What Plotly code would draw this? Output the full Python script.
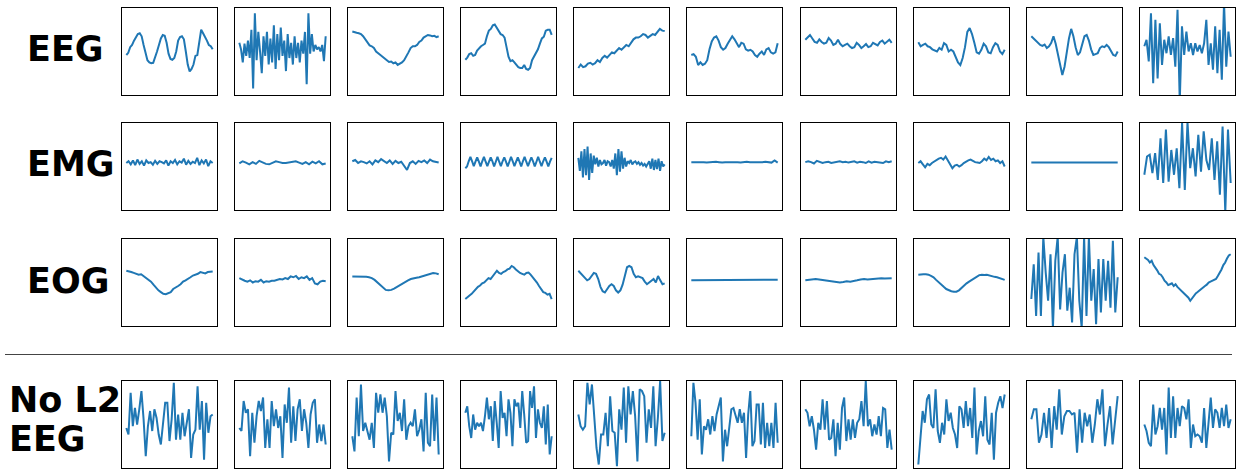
import plotly.graph_objects as go

# ---------------- data ----------------
row_labels = ["EEG", "EMG", "EOG", "No L2", "EEG"]

EEG = [
    [-8, -3, 10, 15, 25, 33, 40, 42, 35, 15, -5, -20, -25, -27, -26, -15, 0, 15, 30, 38, 36, 20, -5, -17, -19, -15, 0, 25, 33, 35, 28, 0, -30, -46, -40, -30, -10, -8, 20, 50, 42, 35, 25, 15, 12, 5],
    [20, 5, -25, 18, -10, 25, -15, 50, -85, 88, -20, 45, 0, -50, 35, -10, 45, -30, 30, -25, 60, -40, 40, -20, 55, -10, 25, -45, 40, -15, 20, -30, 35, -15, 20, -25, 25, -5, 45, -75, 88, -5, 40, 0, 15, 5, 10, 0, 15, -22, 35],
    [46, 44, 43, 42, 40, 35, 28, 20, 14, 12, 8, 0, -5, -8, -12, -17, -20, -24, -23, -27, -25, -31, -28, -25, -20, -12, -2, 8, 12, 12, 15, 22, 25, 32, 36, 38, 37, 35, 36, 33, 35],
    [-19, -14, -6, -4, -10, -8, 2, 8, 12, 15, 18, 35, 48, 52, 60, 62, 55, 45, 40, 38, 32, 10, -12, -22, -20, -25, -32, -36, -38, -38, -31, -40, -42, -38, -20, -12, -6, 5, 18, 30, 34, 48, 50, 50, 38],
    [-38, -30, -36, -34, -28, -26, -30, -27, -20, -24, -15, -10, -14, -8, -2, -4, 2, 8, 4, 10, 15, 12, 20, 28, 32, 32, 35, 40, 38, 32, 36, 40, 38, 44, 52, 48, 47],
    [-8, -6, -12, -31, -25, -31, -28, -20, 5, 23, 32, 35, 25, 10, 4, 8, 18, 28, 35, 28, 18, 10, 20, 18, 5, 2, 4, 0, -8, -12, -5, 0, -8, 5, 8, -2, -5, -2, 19],
    [27, 32, 38, 30, 22, 20, 28, 22, 18, 20, 31, 25, 15, 18, 27, 17, 12, 15, 18, 12, 8, 10, 20, 15, 8, 12, 17, 10, 12, 20, 17, 14, 22, 25, 18, 22, 27, 20],
    [21, 12, 15, 18, 12, 10, 5, 2, 0, 8, 4, 19, 15, 0, 4, 0, -12, -25, -31, -15, 10, 45, 54, 40, 20, -2, -5, 4, 18, 12, -2, -4, 10, 19, 15, 0, -6, 4],
    [35, 30, 25, 18, 15, 13, 16, 8, 12, 20, 35, 18, -5, -30, -54, -35, 0, 30, 52, 35, 10, -8, -2, 18, 35, 38, 25, 5, -8, -6, -4, 8, 12, 10, 15, 10, 0, -8, -10, 0],
    [12, 27, -23, 88, -73, 73, -62, 65, -31, 27, -4, 35, -8, 31, -35, 96, -115, 58, -8, 46, 0, 19, -8, 19, 0, 15, -4, 19, 73, -31, 19, -42, 58, -50, 50, -65, 112, -35, 46, -12],
]

EMG = [
    [8, 12, 5, 14, 3, 16, 6, 12, 2, 14, 8, 10, 4, 13, 6, 12, 10, 7, 14, 2, 12, 8, 15, 5, 12, 9, 18, 4, 13, 6, 11, 8, 20, 3, 14, 7, 16, 1, 12, 8],
    [7, 12, 9, 5, 10, 6, 13, 9, 6, 5, 9, 12, 10, 8, 8, 9, 10, 12, 9, 6, 10, 5, 11, 7, 12, 5, 7],
    [12, 15, 8, 12, 10, 7, 12, 5, 14, 10, 17, 12, 8, 14, 6, 13, 8, 11, 2, -8, 8, 12, 6, 13, 10, 14, 8, 16, 12, 10, 9],
    [-4, 0, 12, 22, 12, 1, 11, 21, 11, 0, 12, 22, 11, 1, 11, 21, 12, 0, 11, 22, 11, 1, 12, 21, 11, 0, 11, 22, 12, 1, 11, 21, 11, 0, 12, 22, 11, 1, 11, 21, 12, 0, 11, 22, 11, 1, 12, 21, 11, 0, 11, 20],
    [20, -10, 35, -25, 40, -20, 46, -31, 30, -15, 25, 5, 20, 0, 15, 5, 8, 15, 2, 12, 10, 0, 15, -5, 30, -20, 40, -12, 35, -5, 20, 0, 12, 8, 15, 5, 10, 12, 6, 10, 4, 8, 2, 6, 0, 5, 12, -5, 18, -8, 15, -6, 18, -10, 12, 0, 5],
    [10, 10, 11, 10, 10, 9, 10, 10, 11, 10, 9, 10, 10, 11, 10, 10, 9, 10, 11, 10, 10, 9, 10, 10, 11, 10, 9, 14, 9],
    [10, 12, 10, 7, 13, 10, 8, 10, 11, 8, 9, 11, 12, 10, 11, 9, 10, 12, 9, 11, 10, 8, 12, 9, 11, 10, 8, 8, 12, 10, 12],
    [8, 12, 5, -2, 6, 3, 8, 12, 14, 18, 20, 16, 23, 14, 6, -4, 2, 4, 0, 3, 8, 12, 14, 16, 12, 10, 9, 8, 12, 18, 14, 22, 15, 18, 12, 14, 8, 12, 0],
    [9, 9, 9, 9, 9, 9, 9, 9, 9, 9],
    [-19, 23, 27, -15, 31, -31, 65, -38, 85, -35, 38, -19, 42, -50, 100, -54, 102, -4, 42, -23, 73, -12, 81, 15, -8, 65, -31, 58, -65, 92, -105, 85, -38],
]

EOG = [
    [27, 26, 24, 22, 20, 18, 19, 15, 12, 8, 2, -5, -12, -18, -22, -26, -27, -24, -22, -15, -12, -8, -4, 2, 5, 8, 12, 16, 18, 20, 24, 22, 21, 24, 25, 25],
    [10, 6, 4, 2, 5, 0, 3, 2, 6, 0, 3, 2, 4, 4, 6, 8, 7, 10, 8, 14, 12, 15, 8, 12, 10, 14, 6, 10, -2, -4, 2, 4, 3],
    [14, 14, 14, 13, 14, 13, 12, 10, 6, 0, -6, -12, -17, -18, -17, -14, -10, -6, -2, 2, 5, 8, 10, 11, 12, 14, 16, 18, 21, 22, 21, 19],
    [-38, -35, -30, -26, -20, -15, -10, -7, -2, 0, 5, 10, 8, 15, 20, 27, 22, 20, 24, 26, 30, 32, 38, 35, 30, 25, 22, 20, 18, 22, 23, 18, 12, 8, 0, -8, -15, -22, -24, -28, -26, -38],
    [27, 22, 15, 12, 5, 8, 15, 22, 20, 8, -10, -20, -23, -15, -8, -4, -8, -18, -23, -18, -5, 15, 35, 38, 35, 20, 12, 14, 12, 10, 2, -4, 0, 5, 8, 0, 15, 5, -4, -2],
    [5, 5, 5, 5.5, 5.5, 6, 6, 6, 6.5, 6.5],
    [5, 6, 7, 8, 7, 6, 5, 4, 3, 2, 0, 1, 3, 2, 3, 5, 7, 8, 7, 8, 9, 10, 10, 9, 10, 10],
    [18, 19, 19, 19, 18, 15, 12, 6, 0, -5, -10, -15, -18, -20, -21, -21, -18, -12, -6, -2, 2, 6, 10, 14, 17, 18, 17, 18, 16, 15, 13, 12, 10, 8, 6],
    [-38, 42, -77, 69, -77, 105, 23, -42, 65, -105, 50, 105, -62, 23, 65, -65, -12, -92, 65, 105, -42, -105, 105, -77, 105, -42, 31, -96, 54, -69, 54, -42, 50, -58, 96, -69, 12],
    [58, 55, 52, 46, 50, 40, 35, 28, 20, 18, 12, 4, 0, -6, -4, -2, -8, -4, -10, -14, -18, -22, -27, -30, -35, -42, -36, -30, -25, -22, -18, -15, -12, -8, -5, 0, 2, 4, 5, 8, 15, 22, 30, 40, 46, 55, 62, 65],
]

NO_L2_EEG = [
    [-8, -23, 73, -4, 38, 0, 35, 77, 12, -73, -4, 31, -15, 35, 15, -23, -46, -4, 50, 50, -38, 12, 96, -35, 23, -35, 27, -27, 0, 35, -77, -23, -12, 88, -12, 54, -81, 50, -19, 19, 23],
    [-8, -15, 54, 27, 35, -73, 27, -42, 19, 54, 31, 62, -54, 12, -54, 54, -4, 35, -8, 19, -77, 46, 4, 85, -42, 42, -38, 35, 58, -15, 35, 4, -54, 23, 50, 58, -42, 0, -38, 0, -46],
    [-27, -62, 62, -27, 92, -15, 4, -19, -35, 4, -54, 73, 27, 69, 27, 62, 19, -85, -19, -23, 77, 8, 27, -15, 58, -35, -4, 4, -4, 35, -27, -12, 12, -62, 73, -42, -50, 69, -38, 62, -69],
    [27, 42, -4, -31, 23, -12, 4, -4, 4, -15, 19, 62, 12, 42, -38, 54, 4, -54, 77, 15, 27, -27, 58, 27, -50, 58, 42, 50, -8, 77, 23, -42, -38, 77, 38, 88, -31, 35, 4, -8, 42, -46, 46, -69, -27],
    [23, -4, -12, -4, 96, 46, 92, 19, -54, -92, -23, -23, 27, -50, 65, -15, -19, -96, 35, -12, 85, -42, 88, 23, 77, 19, -85, 81, 77, 65, -42, 35, -8, 88, -50, 15, 100, -38, -19],
    [-27, 96, 50, -35, 58, -69, -4, -12, 12, -23, 19, -15, 23, 42, 62, -85, -12, -50, -12, 35, 38, 19, 4, 35, 4, 27, -77, 23, 77, -50, -38, 46, 46, -46, 50, -54, 4, -50, 4, -54, 50, -42],
    [35, 27, -4, 19, -12, -58, 4, -12, 58, -12, 54, -35, -31, 12, -73, 4, -58, 38, 62, -38, 12, -35, 12, -31, 4, 12, 54, -4, 100, -4, 12, -27, 0, -23, 19, -27, 38, 35, -54, -12, -58],
    [-92, -27, 31, 4, 58, 69, 0, -8, 81, -15, -42, 4, -23, 58, 8, 27, -8, -23, -54, 42, 35, -8, 54, -4, 38, -31, 85, -69, -15, 8, -27, 65, -35, -46, 27, -81, 27, 50, 65, 38, 69],
    [12, 35, 35, -42, -23, 27, -31, 38, -54, 42, -12, 81, -23, 19, 31, 31, 23, 27, -65, 35, -42, 27, -4, 23, -42, 0, 58, 23, 81, -50, 0, 42, -46, 4, 65],
    [0, -15, -42, -50, 46, -23, -4, 38, -12, 38, -69, 85, -31, 65, -31, 38, -4, 42, 38, 12, 58, -54, 0, -27, -23, -27, -42, 38, -54, 0, 62, -8, 35, 27, -8, 38, -4, 46, -8, 12],
]

# ---------------- layout (pixels) ----------------
W, H = 1238, 471
COL_LEFT = [122, 235, 348, 461, 574, 687, 801, 914, 1027, 1140]
PANEL_W = 95
ROW_TOP = [8, 123, 239, 381]
PANEL_H = 87
LINE_COLOR = "#1f77b4"

rows = [EEG, EMG, EOG, NO_L2_EEG]

fig = go.Figure()
layout_axes = {}
k = 0
for r, series_row in enumerate(rows):
    for c, ys in enumerate(series_row):
        k += 1
        sfx = "" if k == 1 else str(k)
        xs = list(range(len(ys)))
        fig.add_trace(go.Scatter(
            x=xs, y=ys, mode="lines",
            line=dict(color=LINE_COLOR, width=2),
            xaxis="x" + sfx, yaxis="y" + sfx,
            showlegend=False, hoverinfo="skip",
        ))
        n = len(ys) - 1
        x0 = COL_LEFT[c] / W
        x1 = (COL_LEFT[c] + PANEL_W) / W
        y1 = 1 - ROW_TOP[r] / H
        y0 = 1 - (ROW_TOP[r] + PANEL_H) / H
        common = dict(showline=True, mirror=True, linecolor="black", linewidth=1.3,
                      showticklabels=False, ticks="", showgrid=False, zeroline=False,
                      fixedrange=True)
        layout_axes["xaxis" + sfx] = dict(domain=[x0, x1], range=[-0.05 * n, 1.05 * n],
                                          anchor="y" + sfx, **common)
        layout_axes["yaxis" + sfx] = dict(domain=[y0, y1], range=[-100, 100],
                                          anchor="x" + sfx, **common)

fig.update_layout(**layout_axes)

label_pos = [(25, 49), (25, 164), (25, 281), (7, 400), (7, 439)]
annotations = []
for text, (px, py) in zip(row_labels, label_pos):
    annotations.append(dict(
        text="<b>%s</b>" % text, x=px / W, y=1 - py / H, xref="paper", yref="paper",
        xanchor="left", yanchor="middle", showarrow=False,
        font=dict(family="DejaVu Sans", size=35, color="black"),
    ))

fig.update_layout(
    width=W, height=H,
    margin=dict(l=0, r=0, t=0, b=0, pad=0),
    paper_bgcolor="white", plot_bgcolor="white",
    annotations=annotations,
    shapes=[dict(type="line", xref="paper", yref="paper",
                 x0=5 / W, x1=1232 / W, y0=1 - 354.5 / H, y1=1 - 354.5 / H,
                 line=dict(color="#444444", width=1))],
)

fig.write_html("out.html",
               config={"displayModeBar": False, "staticPlot": True},
               post_script="document.body.style.margin='0px';document.body.style.overflow='hidden';")
